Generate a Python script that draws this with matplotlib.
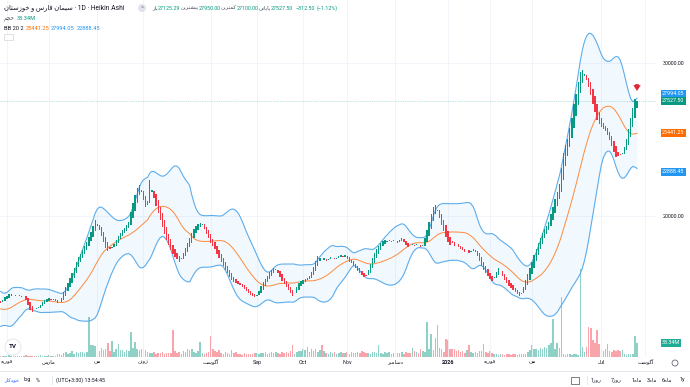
import matplotlib
matplotlib.use('Agg')
import matplotlib.pyplot as plt
from matplotlib.patches import Ellipse, Rectangle
import numpy as np
import pandas as pd

# --- data ---
# closes before the first visible bar (only used to warm up the 20-bar bands)
pre_close = [15000, 14800, 14500, 14000, 13600, 13200, 13000, 13100, 13300, 13500,
             13400, 13600, 13900, 13800, 14000, 14300, 14200, 14500, 14600]

close = [
    14300, 14510, 14700, 14770, 14900, 14900, 14840, 14770, 14840, 14770,
    14700, 14770, 14510, 14180, 13860, 13720, 13920, 13990, 14050, 14180,
    14380, 14510, 14580, 14640, 14510, 14580, 14440, 14310, 14380, 14640,
    15030, 15360, 15620, 15950, 16270, 16600, 16990, 17320, 17520, 17780,
    18040, 18300, 18630, 18950, 19350, 19740, 19480, 19090, 18690, 18300,
    17910, 17710, 17840, 17970, 18170, 18430, 18690, 18890, 19090, 19220,
    19410, 19610, 20260, 20850, 21370, 21830, 22030, 21570, 21050, 20590,
    20720, 22350, 21700, 21180, 20650, 20200, 19740, 19280, 18820, 18430,
    18100, 17780, 17520, 17320, 17190, 16990, 17250, 17580, 17910, 18240,
    18560, 18890, 19150, 19350, 19480, 19540, 19480, 19150, 18820, 18560,
    18240, 18040, 17840, 17520, 17250, 16990, 16730, 16470, 16270, 16010,
    15820, 15690, 15620, 15560, 15490, 15360, 15230, 15100, 14970, 14840,
    14770, 14710, 14840, 15100, 15430, 15690, 15880, 16080, 16340, 16470,
    16600, 16540, 16270, 16010, 15750, 15560, 15360, 15160, 14970, 14770,
    14970, 15360, 15620, 15750, 15820, 15880, 15950, 16080, 16340, 16670,
    17060, 17390, 17250, 17120, 17250, 17060, 17190, 17320, 17250, 17190,
    17250, 17390, 17450, 17320, 17450, 17190, 16990, 16930, 16730, 16600,
    16400, 16270, 16140, 16010, 16080, 16470, 16860, 17250, 17580, 17840,
    18040, 18240, 18370, 18430, 18370, 18430, 18300, 18430, 18370, 18240,
    18430, 18560, 18300, 18100, 17970, 18100, 18170, 18040, 18170, 18100,
    17970, 18100, 18560, 19090, 19610, 20130, 20590, 20720, 20330, 19870,
    19410, 19020, 18630, 18300, 18100, 18240, 18040, 18170, 17970, 17840,
    17780, 17650, 17780, 17580, 17710, 17840, 17650, 17390, 17060, 16730,
    16470, 16270, 16080, 15880, 15750, 16010, 16340, 16600, 16400, 16080,
    15820, 15620, 15430, 15290, 15160, 15030, 14900, 14770, 14970, 15360,
    15820, 16210, 16600, 16990, 17450, 17840, 18240, 18560, 18890, 19150,
    19350, 19610, 20130, 20590, 21110, 21570, 22090, 23140, 24120, 24640,
    25030, 25750, 26410, 27320, 27970, 28760, 29410, 29540, 29280, 28890,
    28430, 27910, 27320, 26800, 26270, 26010, 25820, 25690, 25560, 25290,
    24970, 24580, 24180, 23860, 23920, 23990, 24120, 24510, 25030, 25690,
    26410, 27060, 27650, 27527.5]

# volume in millions
volume = [
    3, 2, 3, 2, 4, 3, 2, 3, 2, 3,
    2, 3, 4, 3, 2, 3, 2, 3, 2, 4,
    3, 2, 3, 4, 2, 3, 3, 6, 8, 5,
    9, 12, 7, 10, 14, 8, 12, 9, 11, 13,
    10, 12, 96, 29, 28, 27, 12, 15, 22, 17,
    20, 34, 14, 38, 12, 18, 31, 16, 17, 12,
    17, 14, 60, 22, 36, 19, 17, 20, 18, 16,
    12, 10, 9, 11, 8, 10, 9, 11, 8, 10,
    9, 10, 65, 15, 9, 12, 8, 14, 11, 19,
    17, 19, 12, 10, 14, 36, 9, 7, 10, 12,
    50, 19, 15, 12, 17, 10, 8, 12, 9, 7,
    17, 9, 12, 6, 8, 5, 10, 7, 6, 8,
    7, 9, 10, 8, 10, 9, 12, 8, 10, 11,
    9, 12, 10, 8, 11, 9, 12, 10, 14, 29,
    8, 12, 15, 14, 20, 17, 24, 12, 18, 15,
    19, 13, 16, 29, 14, 10, 8, 12, 9, 11,
    8, 10, 12, 9, 10, 12, 8, 11, 10, 9,
    12, 10, 14, 11, 9, 10, 8, 12, 11, 10,
    29, 10, 8, 12, 9, 11, 7, 10, 8, 9,
    10, 12, 8, 11, 9, 10, 22, 14, 12, 10,
    19, 15, 12, 84, 20, 55, 17, 46, 77, 22,
    20, 12, 43, 41, 19, 18, 20, 15, 17, 11,
    14, 10, 16, 29, 12, 9, 13, 10, 15, 14,
    31, 12, 10, 14, 9, 7, 6, 5, 7, 6,
    5, 7, 6, 5, 6, 7, 5, 6, 7, 6,
    7, 12, 17, 29, 18, 20, 17, 22, 19, 25,
    21, 29, 34, 91, 20, 34, 22, 144, 6, 5,
    7, 6, 5, 7, 6, 5, 209, 24, 12, 24,
    72, 70, 41, 34, 65, 31, 17, 14, 19, 31,
    15, 12, 17, 14, 17, 14, 17, 6, 5, 7,
    6, 7, 50, 33.34]

month_ticks = [3, 23, 46, 68, 100, 122, 144, 165, 188, 213, 233, 253, 286, 307]
month_labels = ['فوریه', 'مارس', 'می', 'ژوئن', 'آگوست', 'Sep', 'Oct', 'Nov',
                'دسامبر', '2026', 'فوریه', 'می', 'Jul', 'آگوست']

last_close = 27527.50
bb_upper_last, bb_basis_last, bb_lower_last = 27994.05, 25441.25, 22888.45
last_volume = '33.34M'

# --- Persian letters -> presentation forms (matplotlib has no shaping) ---
FORMS = {
    'ا': ('\uFE8D', '\uFE8E', None, None), 'آ': ('\uFE81', '\uFE82', None, None),
    'ب': ('\uFE8F', '\uFE90', '\uFE91', '\uFE92'), 'پ': ('\uFB56', '\uFB57', '\uFB58', '\uFB59'),
    'ت': ('\uFE95', '\uFE96', '\uFE97', '\uFE98'), 'ج': ('\uFE9D', '\uFE9E', '\uFE9F', '\uFEA0'),
    'ح': ('\uFEA1', '\uFEA2', '\uFEA3', '\uFEA4'), 'خ': ('\uFEA5', '\uFEA6', '\uFEA7', '\uFEA8'),
    'د': ('\uFEA9', '\uFEAA', None, None), 'ر': ('\uFEAD', '\uFEAE', None, None),
    'ز': ('\uFEAF', '\uFEB0', None, None), 'ژ': ('\uFB8A', '\uFB8B', None, None),
    'س': ('\uFEB1', '\uFEB2', '\uFEB3', '\uFEB4'), 'ش': ('\uFEB5', '\uFEB6', '\uFEB7', '\uFEB8'),
    'ف': ('\uFED1', '\uFED2', '\uFED3', '\uFED4'), 'ک': ('\uFB8E', '\uFB8F', '\uFB90', '\uFB91'),
    'گ': ('\uFB92', '\uFB93', '\uFB94', '\uFB95'), 'ل': ('\uFEDD', '\uFEDE', '\uFEDF', '\uFEE0'),
    'م': ('\uFEE1', '\uFEE2', '\uFEE3', '\uFEE4'), 'ن': ('\uFEE5', '\uFEE6', '\uFEE7', '\uFEE8'),
    'ه': ('\uFEE9', '\uFEEA', '\uFEEB', '\uFEEC'), 'و': ('\uFEED', '\uFEEE', None, None),
    'ی': ('\uFBFC', '\uFBFD', '\uFBFE', '\uFBFF'), 'ئ': ('\uFE89', '\uFE8A', '\uFE8B', '\uFE8C'),
}


def fa(text):
    # only words with Persian letters get shaped and reversed
    if not any(ch in FORMS for ch in text):
        return text
    out = []
    for w in text.split(' '):
        res = []
        for k, c in enumerate(w):
            if c not in FORMS:
                res.append(c)
                continue
            f = FORMS[c]
            prev = w[k - 1] if k > 0 else None
            nxt = w[k + 1] if k + 1 < len(w) else None
            jp = prev in FORMS and FORMS[prev][2] is not None
            jn = nxt in FORMS and f[2] is not None
            res.append(f[3] if (jp and jn) else f[1] if jp else f[2] if jn else f[0])
        out.append(''.join(reversed(res)))
    return ' '.join(reversed(out))


plt.rcParams['font.family'] = ['Roboto', 'DejaVu Sans']

GREEN, RED = '#089981', '#F23645'
W, H = 690, 387
FS = 3.9

# --- heikin ashi + bollinger ---
allc = np.array(pre_close + close, dtype=float)
ha_open = np.empty_like(allc)
ha_open[0] = allc[0]
for k in range(1, len(allc)):
    ha_open[k] = (ha_open[k - 1] + allc[k - 1]) / 2
s = pd.Series(allc)
basis = s.rolling(20).mean()
dev = s.rolling(20).std(ddof=0)
n0 = len(pre_close)
basis = basis.values[n0:]
upper = basis + 2 * dev.values[n0:]
lower = basis - 2 * dev.values[n0:]
o = ha_open[n0:]
c = allc[n0:]
x = np.arange(len(c))
up = c >= o

fig = plt.figure(figsize=(6.9, 3.87), dpi=100)
pos = [0, 30 / H, 656 / W, 357 / H]
ax_v = fig.add_axes(pos)
ax = fig.add_axes(pos)
ax.patch.set_alpha(0)

xlim = (-0.33, 312.05)
ax_v.set_xlim(*xlim)
ax_v.set_ylim(0, 850)
ax_v.axis('off')
ax_v.bar(x, volume, width=0.72, color=np.where(up, GREEN, RED), alpha=0.45, lw=0)

ax.set_xlim(*xlim)
ax.set_ylim(10784, 34118)
ax.fill_between(x, lower, upper, color='#2196F3', alpha=0.06, lw=0)
ax.plot(x, upper, color='#5DADEC', lw=0.8)
ax.plot(x, lower, color='#5DADEC', lw=0.8)
ax.plot(x, basis, color='#FF8A3D', lw=0.7)
ax.bar(x, c - o, bottom=o, width=0.66, color=np.where(up, GREEN, RED), lw=0, zorder=3)
ax.axhline(last_close, color=GREEN, lw=0.5, ls=(0, (1, 1.5)), alpha=0.5)

ax.annotate('', xy=(303, 27990), xytext=(303, 28800),
            arrowprops=dict(arrowstyle='simple,head_width=0.9,head_length=0.7,tail_width=0.45',
                            color='#E0283A', lw=0, mutation_scale=6), zorder=5)

for sp in ax.spines.values():
    sp.set_visible(False)
ax.yaxis.tick_right()
ax.set_yticks([20000, 30000])
ax.set_yticklabels(['20000.00', '30000.00'])
ax.set_xticks(month_ticks)
ax.set_xticklabels([fa(t) for t in month_labels])
ax.tick_params(axis='both', length=0, labelsize=FS, labelcolor='#131722')
ax.tick_params(axis='y', pad=5)
ax.tick_params(axis='x', pad=2)
ax.get_xticklabels()[month_labels.index('2026')].set_fontweight('bold')
ax.grid(color='#F0F3FA', lw=0.6, zorder=0)
ax.set_axisbelow(True)

# right side value boxes
ytr = ax.get_yaxis_transform()
for val, col in [(bb_upper_last, '#2196F3'), (last_close, GREEN),
                 (bb_basis_last, '#FF6D00'), (bb_lower_last, '#2196F3')]:
    ax.text(662 / 656, val, f'{val:.2f}', transform=ytr, fontsize=FS, color='white',
            va='center', ha='left',
            bbox=dict(boxstyle='square,pad=0.25', fc=col, ec='none'))
ax_v.text(662 / 656, 33.34, last_volume, transform=ax_v.get_yaxis_transform(), fontsize=FS,
          color='white', va='center', ha='left',
          bbox=dict(boxstyle='square,pad=0.25', fc='#22AB94', ec='none'))

# --- header / legend text ---
renderer = fig.canvas.get_renderer()


def pieces(x0, y0, items, size=FS, **kw):
    xx = x0
    for txt, col, gap in items:
        t = fig.text(xx / W, 1 - y0 / H, txt, color=col, fontsize=size, va='center', ha='left', **kw)
        xx += t.get_window_extent(renderer).width + gap


DARK, GREY = '#131722', '#4A4E59'
pieces(4, 8, [(fa('سیمان فارس و خوزستان') + ' · 1D · Heikin Ashi', DARK, 0)], size=4.9)
fig.add_artist(Ellipse((142 / W, 1 - 8 / H), 8 / W, 8 / H, transform=fig.transFigure,
                       fc='#E0E3EB', ec='none'))
fig.text(142 / W, 1 - 8 / H, '=', fontsize=4, color='#6A6D78', ha='center', va='center')
pieces(152, 8, [(fa('باز'), GREY, 0), ('27125.29', GREEN, 0), (fa('بیشترین'), GREY, 0),
                ('27950.00', GREEN, 0), (fa('کمترین'), GREY, 0), ('27100.00', GREEN, 0),
                (fa('پایانی'), GREY, 0), ('27527.50', GREEN, 3), ('\u2212312.50', GREEN, 1.5),
                ('(\u22121.12%)', GREEN, 0)])
pieces(4, 19, [(fa('حجم'), GREY, 2), (last_volume, GREEN, 0)], size=4.1)
pieces(4, 29, [('BB 20 2', DARK, 2), (f'{bb_basis_last:.2f}', '#FF6D00', 2),
               (f'{bb_upper_last:.2f}', '#2196F3', 2), (f'{bb_lower_last:.2f}', '#2196F3', 0)],
       size=4.1)
fig.add_artist(Rectangle((4 / W, 1 - 40 / H), 9 / W, 6 / H, transform=fig.transFigure,
                         fc='white', ec='#D1D4DC', lw=0.5))

# TradingView logo
fig.add_artist(Ellipse((13 / W, 1 - 347 / H), 16 / W, 16 / H, transform=fig.transFigure,
                       fc='white', ec='#E0E3EB', lw=0.6))
fig.text(13 / W, 1 - 347 / H, 'TV', fontsize=4.5, fontweight='bold', color=DARK,
         ha='center', va='center')
# settings icon on time axis
fig.add_artist(Ellipse((675 / W, 1 - 363 / H), 6 / W, 6 / H, transform=fig.transFigure,
                       fc='none', ec='#4A4E59', lw=0.5))

# --- bottom toolbar ---
fig.add_artist(plt.Line2D([0, 1], [1 - 371 / H] * 2, color='#E0E3EB', lw=0.6))
pieces(4, 380, [(fa('خودکار'), '#2962FF', 4), ('log', DARK, 5), ('%', DARK, 0)])
fig.add_artist(plt.Line2D([52 / W] * 2, [1 - 376 / H, 1 - 384 / H], color='#E0E3EB', lw=0.6))
fig.text(56 / W, 1 - 380 / H, '(UTC+3:30) 13:54:45', fontsize=FS, color=DARK, va='center')
fig.add_artist(Rectangle((571 / W, 1 - 384 / H), 8 / W, 7 / H, transform=fig.transFigure,
                         fc='none', ec='#4A4E59', lw=0.5))
fig.add_artist(plt.Line2D([587 / W] * 2, [1 - 376 / H, 1 - 384 / H], color='#E0E3EB', lw=0.6))
for px, lab in [(591, '1' + fa('روز')), (611, '7' + fa('روز')), (632, '1' + fa('ماه')),
                (647, '3' + fa('ماه')), (662, '6' + fa('ماه')), (680, '1y')]:
    fig.text(px / W, 1 - 380 / H, lab, fontsize=FS, color=DARK, va='center', ha='left')

fig.savefig('out.png', dpi=100, facecolor='white')
